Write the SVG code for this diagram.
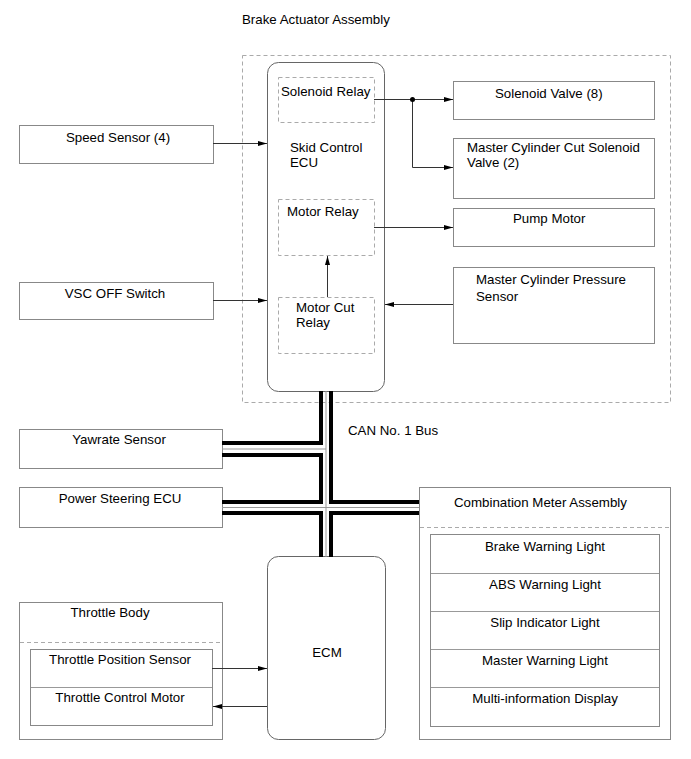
<svg xmlns="http://www.w3.org/2000/svg" width="691" height="759" viewBox="0 0 691 759">
<style>
text{font-family:"Liberation Sans",Arial,sans-serif;font-size:13.3px;fill:#000}
.c{text-anchor:middle}
.box{fill:#fff;stroke:#888;stroke-width:1}
.dash{fill:none;stroke:#aaa;stroke-width:1;stroke-dasharray:4,3}
.rnd{fill:#fff;stroke:#666;stroke-width:1}
.wire{fill:none;stroke:#333;stroke-width:1}
.bus{fill:none;stroke:#000;stroke-width:4;stroke-linejoin:miter}
.busc{fill:none;stroke:#999;stroke-width:1}
</style>
<defs>
<marker id="ah" markerWidth="9" markerHeight="6" refX="9" refY="3" orient="auto" markerUnits="userSpaceOnUse">
<path d="M0,0.5 L9,3 L0,5.5 z" fill="#000"/>
</marker>
</defs>

<text x="242" y="24">Brake Actuator Assembly</text>
<rect class="dash" x="242.5" y="55.5" width="428" height="347"/>

<g id="skid-ecu">
<rect class="rnd" x="267.5" y="62.5" width="117" height="329" rx="11"/>
<text x="290" y="152">Skid Control</text>
<text x="290" y="167">ECU</text>
</g>
<g id="solenoid-relay">
<rect class="dash" x="278.5" y="77.5" width="96" height="45"/>
<text x="281" y="96">Solenoid Relay</text>
</g>
<g id="motor-relay">
<rect class="dash" x="278.5" y="199.5" width="96" height="56"/>
<text x="287" y="216">Motor Relay</text>
</g>
<g id="motor-cut-relay">
<rect class="dash" x="278.5" y="297.5" width="96" height="56"/>
<text x="296" y="312">Motor Cut</text>
<text x="296" y="327">Relay</text>
</g>
<g id="solenoid-valve">
<rect class="box" x="453.5" y="81.5" width="201" height="38"/>
<text x="495" y="98">Solenoid Valve (8)</text>
</g>
<g id="mc-cut-valve">
<rect class="box" x="453.5" y="138.5" width="201" height="60"/>
<text x="467" y="152">Master Cylinder Cut Solenoid</text>
<text x="467" y="167">Valve (2)</text>
</g>
<g id="pump-motor">
<rect class="box" x="453.5" y="208.5" width="201" height="38"/>
<text x="513" y="223">Pump Motor</text>
</g>
<g id="mc-pressure-sensor">
<rect class="box" x="453.5" y="267.5" width="201" height="76"/>
<text x="476" y="284">Master Cylinder Pressure</text>
<text x="476" y="301">Sensor</text>
</g>
<g id="speed-sensor">
<rect class="box" x="19.5" y="125.5" width="194" height="38"/>
<text class="c" x="118" y="142">Speed Sensor (4)</text>
</g>
<g id="vsc-off">
<rect class="box" x="19.5" y="282.5" width="194" height="37"/>
<text class="c" x="115" y="298">VSC OFF Switch</text>
</g>
<g id="yawrate">
<rect class="box" x="19.5" y="429.5" width="203" height="39"/>
<text class="c" x="119" y="444">Yawrate Sensor</text>
</g>
<g id="power-steering">
<rect class="box" x="19.5" y="487.5" width="203" height="40"/>
<text class="c" x="120" y="503">Power Steering ECU</text>
</g>
<g id="combination-meter">
<rect class="box" x="419.5" y="487.5" width="251" height="252"/>
<line class="dash" x1="420" y1="527.5" x2="670" y2="527.5"/>
<text x="454" y="507">Combination Meter Assembly</text>
<rect class="box" x="430.5" y="534.5" width="229" height="192"/>
<line class="busc" x1="431" y1="573.5" x2="659" y2="573.5"/>
<line class="busc" x1="431" y1="611.5" x2="659" y2="611.5"/>
<line class="busc" x1="431" y1="649.5" x2="659" y2="649.5"/>
<line class="busc" x1="431" y1="687.5" x2="659" y2="687.5"/>
<text class="c" x="545" y="551">Brake Warning Light</text>
<text class="c" x="545" y="589">ABS Warning Light</text>
<text class="c" x="545" y="627">Slip Indicator Light</text>
<text class="c" x="545" y="665">Master Warning Light</text>
<text class="c" x="545" y="703">Multi-information Display</text>
</g>
<g id="ecm">
<rect class="rnd" x="267.5" y="556.5" width="118" height="183" rx="11"/>
<text class="c" x="327" y="657">ECM</text>
</g>
<g id="throttle-body">
<rect class="box" x="19.5" y="602.5" width="203" height="137"/>
<line class="dash" x1="20" y1="642.5" x2="222" y2="642.5"/>
<text class="c" x="110" y="617">Throttle Body</text>
<rect class="box" x="30.5" y="649.5" width="182" height="76"/>
<line class="busc" x1="31" y1="687.5" x2="212" y2="687.5"/>
<text class="c" x="120" y="664">Throttle Position Sensor</text>
<text class="c" x="120" y="702">Throttle Control Motor</text>
</g>

<g id="connectors">
<line class="wire" x1="374" y1="99.5" x2="453" y2="99.5" marker-end="url(#ah)"/>
<polyline class="wire" points="412.5,99.5 412.5,167.5 453,167.5" marker-end="url(#ah)"/>
<circle cx="412.5" cy="99.5" r="2.5" fill="#000"/>
<line class="wire" x1="374" y1="227.5" x2="453" y2="227.5" marker-end="url(#ah)"/>
<line class="wire" x1="327.5" y1="297" x2="327.5" y2="256" marker-end="url(#ah)"/>
<line class="wire" x1="453" y1="304.5" x2="385" y2="304.5" marker-end="url(#ah)"/>
<line class="wire" x1="213" y1="143.5" x2="267" y2="143.5" marker-end="url(#ah)"/>
<line class="wire" x1="213" y1="300.5" x2="267" y2="300.5" marker-end="url(#ah)"/>
<line class="wire" x1="212" y1="668.5" x2="267" y2="668.5" marker-end="url(#ah)"/>
<line class="wire" x1="267" y1="706.5" x2="213" y2="706.5" marker-end="url(#ah)"/>
</g>

<g id="can-bus">
<path class="busc" d="M326,391 V557 M222,449 H326 M222,507.5 H419"/>
<path class="bus" d="M222,443 H321 V391"/>
<path class="bus" d="M222,455 H321 V502 H222"/>
<path class="bus" d="M222,513 H321 V557"/>
<path class="bus" d="M331,391 V502 H419"/>
<path class="bus" d="M419,513 H331 V557"/>
<text x="348" y="435">CAN No. 1 Bus</text>
</g>
</svg>
